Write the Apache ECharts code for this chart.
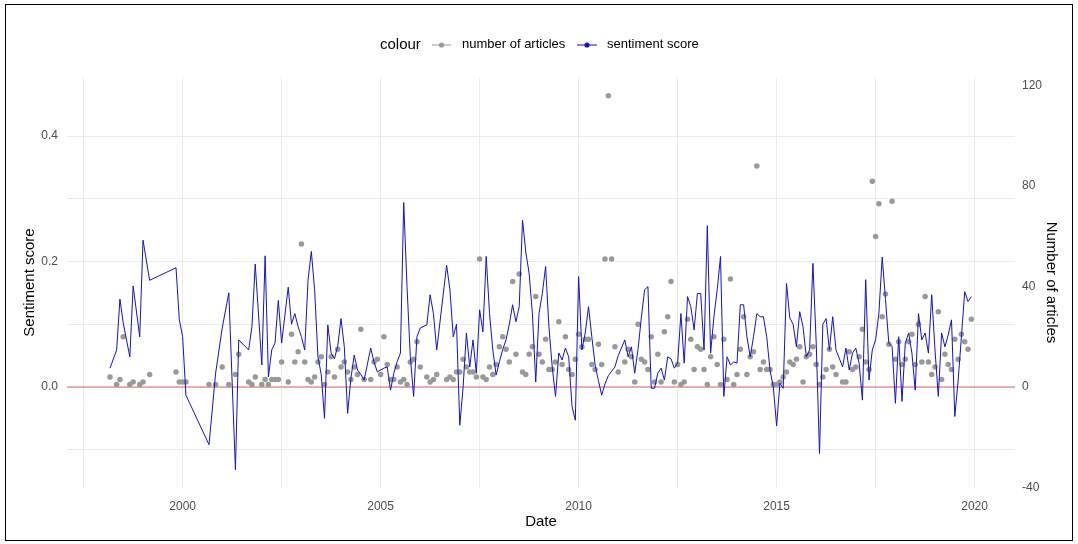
<!DOCTYPE html>
<html><head><meta charset="utf-8">
<script src="https://cdn.jsdelivr.net/npm/echarts@6/dist/echarts.min.js"></script>
<style>
html,body{margin:0;padding:0;background:#fff;}
#chart{position:absolute;left:0;top:0;width:1078px;height:544px;}
#frame{position:absolute;left:5px;top:4px;width:1068px;height:537px;border:1px solid #000;box-sizing:border-box;pointer-events:none;}
</style></head><body>
<div id="chart"></div><div id="frame"></div>
<script>
// ---- data ----
const dates = [
  '1998-03','1998-05','1998-06','1998-07','1998-09','1998-10','1998-12',
  '1999-01','1999-03','1999-11','1999-12',
  '2000-01','2000-02','2000-09','2000-11',
  '2001-01','2001-03','2001-05','2001-06','2001-09','2001-10','2001-11',
  '2002-01','2002-02','2002-03','2002-04','2002-05','2002-06','2002-07','2002-09','2002-10','2002-11','2002-12',
  '2003-01','2003-02','2003-03','2003-04','2003-05','2003-06','2003-07','2003-08','2003-09','2003-10','2003-11','2003-12',
  '2004-01','2004-02','2004-03','2004-04','2004-05','2004-06','2004-07','2004-08','2004-10','2004-11','2004-12',
  '2005-01','2005-02','2005-03','2005-04','2005-05','2005-06','2005-07','2005-08','2005-09','2005-10','2005-11','2005-12',
  '2006-01','2006-03','2006-04','2006-05','2006-06','2006-09','2006-10','2006-11','2006-12',
  '2007-01','2007-02','2007-03','2007-04','2007-05','2007-06','2007-07','2007-08','2007-09','2007-10','2007-11','2007-12',
  '2008-01','2008-02','2008-03','2008-04','2008-05','2008-06','2008-07','2008-08','2008-09','2008-10','2008-11','2008-12',
  '2009-01','2009-02','2009-03','2009-04','2009-05','2009-06','2009-07','2009-08','2009-09','2009-10','2009-11','2009-12',
  '2010-01','2010-02','2010-03','2010-04','2010-05','2010-06','2010-07','2010-08','2010-09','2010-10','2010-11','2010-12',
  '2011-01','2011-03','2011-04','2011-05','2011-06','2011-07','2011-08','2011-09','2011-10','2011-11','2011-12',
  '2012-01','2012-02','2012-03','2012-04','2012-05','2012-06','2012-07','2012-08','2012-09','2012-10','2012-11','2012-12',
  '2013-01','2013-02','2013-03','2013-04','2013-05','2013-06','2013-07','2013-08','2013-09','2013-10','2013-11','2013-12',
  '2014-01','2014-02','2014-03','2014-04','2014-05','2014-06','2014-07','2014-08','2014-09','2014-10','2014-11','2014-12',
  '2015-01','2015-02','2015-03','2015-04','2015-05','2015-06','2015-07','2015-08','2015-09','2015-10','2015-11','2015-12',
  '2016-01','2016-02','2016-03','2016-04','2016-05','2016-06','2016-07','2016-09','2016-10','2016-11','2016-12',
  '2017-01','2017-02','2017-03','2017-04','2017-05','2017-06','2017-07','2017-08','2017-09','2017-10','2017-11','2017-12',
  '2018-01','2018-02','2018-03','2018-04','2018-05','2018-06','2018-07','2018-08','2018-09','2018-10','2018-11','2018-12',
  '2019-01','2019-02','2019-03','2019-04','2019-05','2019-06','2019-07','2019-08','2019-09','2019-10','2019-11','2019-12'
];
const sentiment = [
  0.030,0.059,0.140,0.102,0.048,0.161,0.080,
  0.234,0.170,0.190,0.107,
  0.080,-0.013,-0.092,0.022,
  0.094,0.150,-0.132,0.075,0.059,0.096,0.196,
  0.035,0.209,0.016,0.059,0.070,0.138,0.070,0.159,0.100,0.117,0.096,
  0.080,0.059,0.170,0.216,0.155,0.048,0.020,-0.050,0.099,0.054,0.045,0.065,
  0.109,0.064,-0.042,0.014,0.051,0.027,0.020,0.011,0.062,0.040,0.024,
  0.027,0.030,0.032,-0.005,0.022,0.040,0.054,0.294,0.160,0.048,-0.015,0.080,
  0.094,0.099,0.147,0.117,0.059,0.194,0.155,0.080,0.100,
  -0.061,0.000,0.086,0.032,0.075,0.022,0.123,0.088,0.208,0.117,0.059,0.019,
  0.040,0.060,0.075,0.100,0.131,0.104,0.128,0.266,0.215,0.181,0.117,0.008,
  0.117,0.149,0.192,0.096,0.032,-0.015,0.054,0.043,0.062,0.048,-0.031,-0.053,
  0.176,0.059,0.086,0.128,0.080,0.035,0.010,-0.013,0.005,0.018,0.025,0.032,
  0.050,0.075,0.048,0.064,0.022,0.060,0.110,0.155,0.160,-0.002,-0.002,
  0.022,0.030,0.011,0.048,0.045,0.030,0.038,0.117,0.038,0.144,0.128,0.091,
  0.149,0.149,0.059,0.257,0.054,0.112,0.155,0.208,-0.015,0.048,0.035,0.040,
  0.038,0.131,0.131,0.080,0.048,0.080,0.117,0.112,0.112,0.080,0.027,0.000,
  -0.062,0.006,-0.002,0.165,0.110,0.100,0.064,0.120,0.096,0.048,0.059,0.197,
  0.070,-0.106,0.100,0.109,0.059,0.112,0.059,0.032,0.062,0.027,0.054,
  0.062,0.038,-0.021,0.171,0.011,0.059,0.075,0.118,0.207,0.139,0.070,0.064,
  -0.026,0.080,-0.023,0.070,0.086,0.054,-0.005,0.117,0.075,0.086,0.054,0.147,
  0.059,-0.015,0.086,0.064,0.083,0.107,-0.047,0.010,0.080,0.152,0.136,0.144
];
const articles = [
  4,1,3,20,1,2,1,
  2,5,6,2,
  2,2,1,1,
  8,1,5,13,2,1,4,
  1,3,1,3,3,3,10,2,21,10,14,
  57,10,3,2,4,10,12,1,6,12,4,15,
  8,10,6,3,8,5,23,3,3,10,11,
  5,20,9,3,3,8,2,3,1,10,11,18,
  8,4,2,3,5,3,4,3,6,
  6,11,8,6,6,4,51,4,3,8,5,9,
  16,20,15,10,42,13,45,6,5,13,16,36,
  13,10,19,7,7,10,26,9,20,7,5,11,
  21,16,19,19,9,7,17,9,51,116,51,16,
  6,10,15,12,2,25,11,10,7,20,2,
  13,2,22,28,42,2,9,1,2,27,19,7,
  16,15,7,1,12,20,9,1,19,3,43,1,
  5,15,28,5,12,14,88,7,10,7,7,1,
  1,2,4,6,10,9,11,16,2,12,13,16,
  9,1,4,7,15,8,5,2,2,14,7,
  8,12,23,10,7,82,60,73,28,37,17,74,
  11,18,9,11,18,21,9,25,10,36,10,5,
  8,30,3,13,9,7,19,11,21,18,15,27
];
const xTicks = [2000, 2005, 2010, 2015, 2020];
const xGrid = [1997.5, 2000, 2002.5, 2005, 2007.5, 2010, 2012.5, 2015, 2017.5, 2020];
const leftTicks = [0, 0.2, 0.4];
const leftGrid = [-0.1, 0, 0.1, 0.2, 0.3, 0.4];
const rightTicks = [-40, 0, 40, 80, 120];
const zeroLine = 0;

// ---- chart ----
// date string 'YYYY-MM' -> decimal year (first of month)
const toYear = s => { const p = s.split('-'); return +p[0] + (+p[1] - 1) / 12; };
const X_MIN = 1997.08, X_MAX = 2021.02;
const FONT = "'Liberation Sans', Arial, sans-serif";
const GRID = '#ebebeb';
const BLUE = '#1212c6';
const RED = '#e06666';
const NOLINE = {show: false, onZero: false, lineStyle: {opacity: 0}};

const chart = echarts.init(document.getElementById('chart'), null, {renderer: 'canvas'});
const option = {
  animation: false,
  backgroundColor: '#ffffff',
  textStyle: {fontFamily: FONT},
  grid: {left: 67, right: 63, top: 77, bottom: 56, containLabel: false},
  xAxis: {
    type: 'value', min: X_MIN, max: X_MAX,
    name: 'Date', nameLocation: 'middle', nameGap: 26, nameMoveOverlap: false,
    nameTextStyle: {fontSize: 15, color: '#000', fontFamily: FONT, verticalAlign: 'top'},
    axisLine: NOLINE,
    axisTick: {show: false, customValues: xGrid},
    splitLine: {show: true, lineStyle: {color: GRID, width: 1}},
    axisLabel: {customValues: xTicks, formatter: v => String(Math.round(v)),
      color: '#4d4d4d', fontSize: 12, margin: 13, fontFamily: FONT}
  },
  yAxis: [{
    type: 'value', position: 'left', min: -0.161, max: 0.494,
    name: 'Sentiment score', nameLocation: 'middle', nameGap: 30, nameRotate: 90, nameMoveOverlap: false,
    nameTextStyle: {fontSize: 15, color: '#000', fontFamily: FONT},
    axisLine: NOLINE,
    axisTick: {show: false, customValues: leftGrid},
    splitLine: {show: true, lineStyle: {color: GRID, width: 1}},
    axisLabel: {customValues: leftTicks, formatter: v => v.toFixed(1),
      color: '#4d4d4d', fontSize: 12, margin: 9, fontFamily: FONT}
  }, {
    type: 'value', position: 'right', min: -40.25, max: 123.5,
    name: 'Number of articles', nameLocation: 'middle', nameGap: 29, nameRotate: -90, nameMoveOverlap: false,
    nameTextStyle: {fontSize: 15, color: '#000', fontFamily: FONT},
    axisLine: NOLINE, axisTick: {show: false}, splitLine: {show: false},
    axisLabel: {customValues: rightTicks, formatter: v => String(v),
      color: '#4d4d4d', fontSize: 12, margin: 7, fontFamily: FONT}
  }],
  series: [{
    name: 'zero', type: 'line', yAxisIndex: 0, z: 2, silent: true,
    showSymbol: false, symbol: 'none',
    lineStyle: {color: RED, width: 1.2, type: 'solid', opacity: 1},
    itemStyle: {color: RED},
    data: [[X_MIN, zeroLine], [X_MAX, zeroLine]]
  }, {
    name: 'number of articles', type: 'scatter', yAxisIndex: 1, z: 3,
    symbolSize: 5.5, itemStyle: {color: '#999999', opacity: 1},
    data: dates.map((d, i) => [toYear(d), articles[i]])
  }, {
    name: 'sentiment score', type: 'line', yAxisIndex: 0, z: 4,
    showSymbol: false, symbol: 'none',
    lineStyle: {color: BLUE, width: 1},
    itemStyle: {color: BLUE},
    data: dates.map((d, i) => [toYear(d), sentiment[i]])
  }],
  graphic: [
    {type: 'text', left: 380, top: 37, style: {text: 'colour', font: '15px ' + FONT, fill: '#000'}},
    {type: 'line', shape: {x1: 432, y1: 45, x2: 451, y2: 45}, style: {stroke: '#999999', lineWidth: 1}},
    {type: 'circle', shape: {cx: 441.5, cy: 45, r: 2.6}, style: {fill: '#999999'}},
    {type: 'text', left: 462, top: 38, style: {text: 'number of articles', font: '13px ' + FONT, fill: '#000'}},
    {type: 'line', shape: {x1: 577, y1: 45, x2: 597, y2: 45}, style: {stroke: BLUE, lineWidth: 1}},
    {type: 'circle', shape: {cx: 587, cy: 45, r: 2.6}, style: {fill: BLUE}},
    {type: 'text', left: 607, top: 38, style: {text: 'sentiment score', font: '13px ' + FONT, fill: '#000'}}
  ]
};
chart.setOption(option);
</script>
</body></html>
